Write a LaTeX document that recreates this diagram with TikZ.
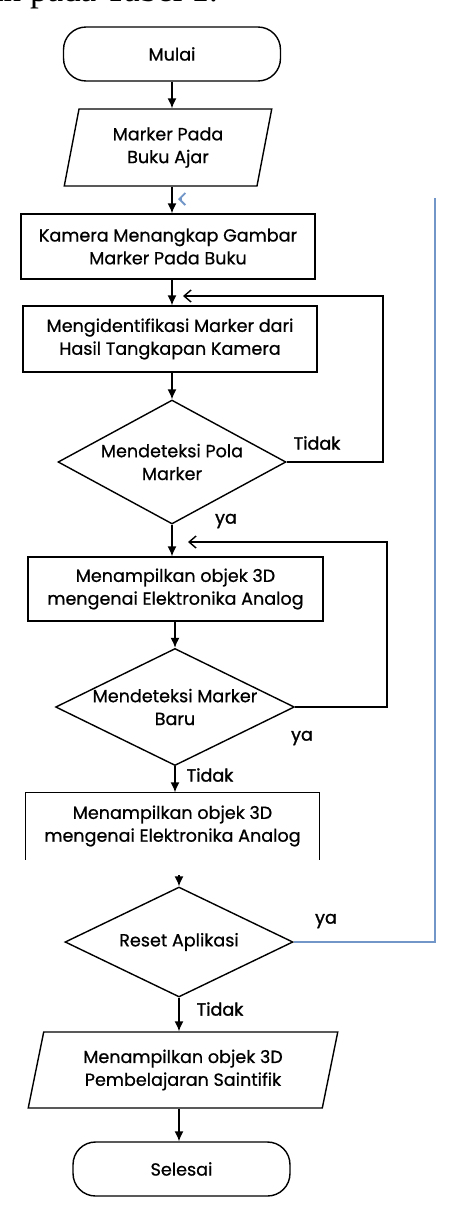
\documentclass[tikz,border=0pt]{standalone}
\usepackage{fontspec}
\setmainfont{Poppins}[FakeBold=0.7]
\newfontfamily\pagefont{Liberation Serif}
\newfontfamily\labfont[FakeBold=1.5]{Poppins}
\usetikzlibrary{shapes.geometric,arrows.meta}
\colorlet{ecol}{black}
\definecolor{bcol}{RGB}{115,150,200}
\tikzstyle{box}=[rectangle, draw, line width=0.8pt, minimum width=5.88cm, minimum height=1.3cm, align=center, font=\fontsize{10}{13}\selectfont]
\tikzstyle{term}=[box, rounded corners=0.45cm, minimum width=4.34cm, minimum height=1.08cm]
\tikzstyle{io}=[box, trapezium, trapezium stretches=true, trapezium left angle=79, trapezium right angle=101]
\tikzstyle{test}=[box, diamond, aspect=1.84, minimum width=4.56cm, minimum height=2.48cm, inner sep=0pt]
\tikzstyle{lab}=[font=\labfont\fontsize{10}{12}\selectfont]
\tikzstyle{flow}=[line width=0.8pt, ecol, -{Latex[length=0.2cm,width=0.18cm]}]
\tikzstyle{back}=[line width=0.8pt, ecol, -{Straight Barb[length=0.14cm,width=0.24cm]}]
\tikzstyle{bline}=[line width=1.1pt, bcol]

\begin{document}
\begin{tikzpicture}[x=0.02cm, y=-0.02cm]
	\useasboundingbox (0,0) rectangle (452,1210);
	\node[anchor=base east, font=\pagefont\fontsize{20}{24}\selectfont] (caption) at (224,2) {kan pada Tabel 1.};

	\node[term] (mulai) at (172,54) {Mulai};
	\node[io, minimum width=4.16cm, minimum height=1.54cm] (marker) at (168,147.5) {Marker Pada\\Buku Ajar};
	\node[box] (kamera) at (168,246.5) {Kamera Menangkap Gambar\\Marker Pada Buku};
	\node[box, minimum height=1.32cm] (ident) at (170,339) {Mengidentifikasi Marker dari\\Hasil Tangkapan Kamera};
	\node[test] (pola) at (172,462) {Mendeteksi Pola\\Marker};
	\node[box, minimum width=5.9cm, minimum height=1.28cm] (tampil1) at (175.5,589) {Menampilkan objek 3D\\mengenai Elektronika Analog};
	\node[test, aspect=2.04, minimum height=2.24cm] (baru) at (175,707) {Mendeteksi Marker\\Baru};
	\node[box, draw=none, minimum width=5.86cm, minimum height=1.32cm] (tampil2) at (172.5,826) {Menampilkan objek 3D\\mengenai Elektronika Analog};
	\node[test, aspect=2.07, minimum height=2.2cm] (reset) at (179,942) {Reset Aplikasi};
	\node[io, trapezium left angle=77.4, trapezium right angle=102.6, minimum width=6.2cm, minimum height=1.52cm] (saintifik) at (183,1070) {Menampilkan objek 3D\\Pembelajaran Saintifik};
	\node[term] (selesai) at (181.5,1169) {Selesai};

	% Box without bottom side
	\draw[line width=0.8pt] (tampil2.south west) -- (tampil2.north west) -- (tampil2.north east) -- (tampil2.south east);

	\coordinate (corner1) at (383,296);
	\coordinate (in1) at (183,296);
	\coordinate (corner2) at (387,542);
	\coordinate (in2) at (188,542);
	\coordinate (corner3) at (435,198);
	\coordinate (in3s) at (182,199);
	\coordinate (in3) at (178,199);
	\coordinate (from4) at (179,875);

	% Main flow
	\draw (mulai)edge[flow](mulai |- marker.north) (mulai |- marker.south)edge[flow](mulai |- kamera.north) (mulai |- kamera.south)edge[flow](mulai |- ident.north) (mulai |- ident.south)edge[flow](pola.north);
	\draw (pola)edge[flow](pola |- tampil1.north) (baru |- tampil1.south)edge[flow](baru.north) (baru)edge[flow](baru |- tampil2.north);
	\draw (from4)edge[flow](reset.north) (reset)edge[flow](reset |- saintifik.north) (reset |- saintifik.south)edge[flow](reset |- selesai.north);
	% Loops back
	\draw[back] (pola.east) -| (corner1) -- (in1);
	\draw[back] (baru.east) -| (corner2) -- (in2);
	\draw[bline] (reset.east) -| (corner3);
	\draw[bline, -{Straight Barb[length=0.12cm,width=0.24cm]}] (in3s) -- (in3);

	\node[lab] (tidak1) at (317,443) {Tidak};
	\node[lab] (ya1) at (226,521) {ya};
	\node[lab] (ya2) at (302,738) {ya};
	\node[lab] (tidak2) at (210,775) {Tidak};
	\node[lab] (ya3) at (326,921) {ya};
	\node[lab] (tidak3) at (220,1009) {Tidak};
\end{tikzpicture}
\end{document}
